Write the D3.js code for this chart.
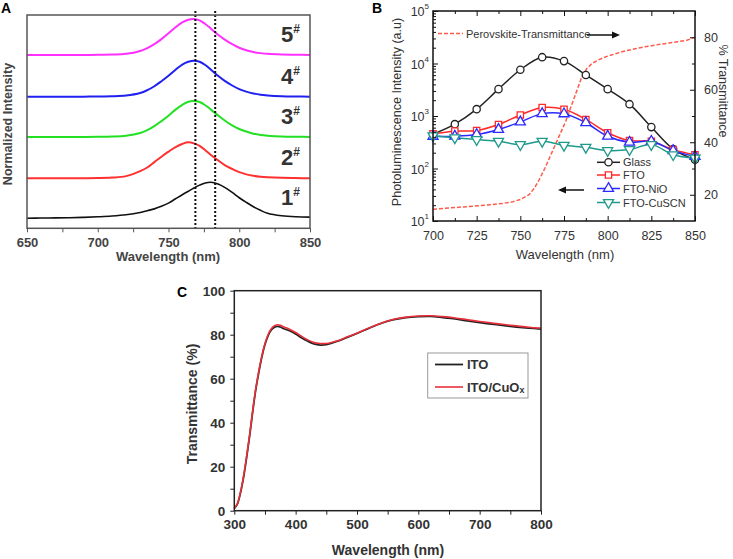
<!DOCTYPE html>
<html>
<head>
<meta charset="utf-8">
<script src="https://cdn.jsdelivr.net/npm/d3@7"></script>
<style>
  body { margin: 0; background: #fff; }
  text { font-family: "Liberation Sans", Arial, sans-serif; }
</style>
</head>
<body>
<div></div>
<script>
// ---------- panel A : normalized PL spectra ----------
var aWl = [650, 660, 670, 680, 690, 700, 710, 720, 730, 735, 740, 745, 750, 755, 760, 764,
           768, 772, 776, 780, 785, 790, 795, 800, 805, 810, 815, 820, 830, 840, 850];
var aS1 = [0, 0.005, 0.01, 0.015, 0.025, 0.04, 0.06, 0.095, 0.16, 0.21, 0.26, 0.33, 0.42, 0.54, 0.66, 0.75,
           0.84, 0.92, 0.98, 1.0, 0.95, 0.85, 0.72, 0.57, 0.44, 0.32, 0.22, 0.14, 0.07, 0.04, 0.03];
var aS2 = [0, 0, 0, 0, 0.002, 0.006, 0.02, 0.06, 0.2, 0.3, 0.45, 0.6, 0.74, 0.87, 0.96, 1.0,
           0.97, 0.9, 0.78, 0.65, 0.5, 0.36, 0.26, 0.17, 0.11, 0.07, 0.045, 0.03, 0.012, 0.005, 0];
var aS3 = [0, 0, 0, 0, 0, 0.004, 0.012, 0.035, 0.11, 0.19, 0.3, 0.44, 0.59, 0.76, 0.9, 0.98,
           1.0, 0.97, 0.88, 0.76, 0.6, 0.45, 0.32, 0.22, 0.15, 0.09, 0.055, 0.035, 0.013, 0.005, 0];
var aS4 = [0, 0, 0, 0, 0, 0.003, 0.01, 0.03, 0.1, 0.18, 0.29, 0.43, 0.58, 0.75, 0.9, 0.97,
           1.0, 0.97, 0.88, 0.75, 0.58, 0.43, 0.31, 0.21, 0.14, 0.09, 0.055, 0.035, 0.013, 0.005, 0];
var aS5 = [0, 0, 0, 0, 0, 0.003, 0.01, 0.03, 0.11, 0.19, 0.3, 0.44, 0.6, 0.77, 0.91, 0.98,
           1.0, 0.96, 0.86, 0.73, 0.56, 0.42, 0.3, 0.2, 0.13, 0.08, 0.05, 0.03, 0.012, 0.005, 0];
var aSeries = [aS1, aS2, aS3, aS4, aS5];
var aNames = ["1", "2", "3", "4", "5"];
var aOffsets = [0, 1.11, 2.26, 3.38, 4.54];
var aColors = ["#111111", "#ff3030", "#22e022", "#2020f0", "#ff30ff"];
var aMarks = [769, 783];
var aTicks = [650, 700, 750, 800, 850];

// ---------- panel B : PL intensity (log) + transmittance ----------
var bWl = [700, 712.5, 725, 737.5, 750, 762.5, 775, 787.5, 800, 812.5, 825, 837.5, 850];
var bGlass = [450, 700, 1350, 3250, 7600, 13200, 11100, 6050, 3250, 1680, 615, 235, 147];
var bFto   = [460, 515, 530, 690, 1045, 1450, 1340, 860, 480, 340, 330, 229, 183];
var bNio   = [410, 412, 444, 555, 770, 1110, 1100, 745, 412, 316, 330, 219, 170];
var bCuscn = [420, 385, 355, 330, 285, 330, 277, 253, 219, 229, 285, 183, 158];
var bNames = ["Glass", "FTO", "FTO-NiO", "FTO-CuSCN"];
var bColors = ["#222222", "#ff2a2a", "#2a2aff", "#1f9a8c"];
var bPeroWl = [700, 710, 720, 730, 740, 745, 750, 755, 758, 761, 764, 767, 770, 773, 776, 779,
               782, 785, 788, 791, 795, 800, 805, 810, 815, 820, 825, 830, 835, 840, 845, 850];
var bPeroT = [14.5, 15, 15.5, 16, 16.7, 17.2, 18.2, 20, 22.5, 26, 30, 34.5, 39, 43.5, 48, 53.5,
              59, 64.5, 68, 70, 71.5, 72.8, 73.8, 74.8, 75.5, 76.2, 76.8, 77.3, 77.8, 78.3, 78.8, 80];
var bTicks = [700, 725, 750, 775, 800, 825, 850];
var bRightTicks = [20, 40, 60, 80];

// ---------- panel C : transmittance of ITO ----------
var cWl = [300, 305, 310, 315, 320, 325, 330, 335, 340, 345, 350, 355, 360, 365, 370, 375, 380, 390,
           400, 410, 420, 430, 440, 450, 460, 470, 480, 500, 520, 540, 560, 580, 600, 620, 640, 660,
           680, 700, 720, 740, 760, 780, 800];
var cIto = [1, 3, 8, 15, 24, 34, 45, 55, 63, 70, 75.5, 79.5, 82, 83.3, 83.8, 83.5, 82.8, 81.8,
            80.3, 78.5, 77, 75.8, 75.3, 75.5, 76.3, 77.2, 78.3, 80.6, 83, 85.2, 86.8, 87.8, 88.2, 88.3, 87.8, 87.2,
            86.3, 85.5, 84.8, 84.1, 83.5, 83, 82.6];
var cItoCu = [1, 3.2, 8.3, 15.5, 24.5, 34.5, 45.5, 55.5, 63.5, 70.5, 76, 80, 82.6, 84, 84.5, 84.3, 83.6, 82.5,
              81, 79.2, 77.6, 76.4, 76, 76, 76.6, 77.4, 78.5, 80.7, 83.1, 85.3, 87, 88, 88.5, 88.6, 88.2, 87.6,
              86.8, 86, 85.3, 84.6, 84, 83.4, 83];
var cXTicks = [300, 400, 500, 600, 700, 800];
var cYTicks = [0, 20, 40, 60, 80, 100];

var svg = d3.select("div").append("svg")
    .attr("width", 733)
    .attr("height", 559);
svg.append("rect").attr("width", 733).attr("height", 559).attr("fill", "#fff");

// ================= A =================
var ax = d3.scaleLinear().domain([650, 850]).range([27, 310]);
var ay = d3.scaleLinear().domain([-0.28, 5.65]).range([228.3, 15]);
var gA = svg.append("g");

var aLine = d3.line().x(d => ax(d[0])).y(d => ay(d[1])).curve(d3.curveCatmullRom);
aSeries.forEach(function (vals, k) {
  gA.append("path")
    .datum(aWl.map((w, i) => [w, vals[i] + aOffsets[k]]))
    .attr("d", aLine)
    .attr("fill", "none")
    .attr("stroke", aColors[k])
    .attr("stroke-width", k == 0 ? 1.6 : 2);
});

aMarks.forEach(function (w) {
  gA.append("line")
    .attr("x1", ax(w)).attr("x2", ax(w))
    .attr("y1", 11).attr("y2", ay(-0.28))
    .attr("stroke", "#111").attr("stroke-width", 2).attr("stroke-dasharray", "2,2");
});

gA.append("rect").attr("x", 27).attr("y", 15).attr("width", 283).attr("height", 213.3)
  .attr("fill", "none").attr("stroke", "#555").attr("stroke-width", 1.5);

var aAxis = gA.append("g").attr("transform", "translate(0,228.3)")
  .call(d3.axisBottom(ax).tickValues(d3.range(650, 851, 25)).tickSize(4)
        .tickFormat(d => aTicks.indexOf(d) >= 0 ? d : ""));
aAxis.select(".domain").remove();
aAxis.selectAll("line").attr("stroke", "#555");
aAxis.selectAll("text").attr("font-size", 13).attr("font-weight", "bold").attr("fill", "#444")
  .attr("dy", "0.9em");

aNames.forEach(function (n, k) {
  var t = gA.append("text")
    .attr("x", 281)
    .attr("y", ay(aOffsets[k]) - 13)
    .attr("font-size", 22).attr("font-weight", "bold").attr("fill", "#333");
  t.append("tspan").text(n);
  t.append("tspan").attr("font-size", 12).attr("dy", -9).text("#");
});

gA.append("text").attr("x", 168).attr("y", 261).attr("text-anchor", "middle")
  .attr("font-size", 13).attr("font-weight", "bold").attr("fill", "#444").text("Wavelength (nm)");
gA.append("text").attr("transform", "translate(12,124) rotate(-90)").attr("text-anchor", "middle")
  .attr("font-size", 12.5).attr("font-weight", "bold").attr("fill", "#444").text("Normalized Intensity");
gA.append("text").attr("x", 1).attr("y", 13).attr("font-size", 14).attr("font-weight", "bold").text("A");

// ================= B =================
var bx = d3.scaleLinear().domain([700, 850]).range([433, 695]);
var by = d3.scaleLog().domain([10, 1e5]).range([221, 11]);
var byR = d3.scaleLinear().domain([10, 90]).range([221, 11]);
var gB = svg.append("g");

var peroLine = d3.line().x((d, i) => bx(bPeroWl[i])).y(d => byR(d));
gB.append("path").datum(bPeroT).attr("d", peroLine)
  .attr("fill", "none").attr("stroke", "#ff5a4a").attr("stroke-width", 1.5)
  .attr("stroke-dasharray", "4,2");

var bSeries = [bGlass, bFto, bNio, bCuscn];
var bSymbols = [
  d3.symbol().type(d3.symbolCircle).size(42),
  d3.symbol().type(d3.symbolSquare).size(40),
  d3.symbol().type(d3.symbolTriangle).size(44),
  d3.symbol().type(d3.symbolTriangle).size(44)
];
var bLine = d3.line().x((d, i) => bx(bWl[i])).y(d => by(d)).curve(d3.curveCatmullRom);

bSeries.forEach(function (vals, k) {
  gB.append("path").datum(vals).attr("d", bLine)
    .attr("fill", "none").attr("stroke", bColors[k]).attr("stroke-width", 1.5);
});
bSeries.forEach(function (vals, k) {
  gB.selectAll(null).data(vals).enter().append("path")
    .attr("d", bSymbols[k])
    .attr("transform", (d, i) => "translate(" + bx(bWl[i]) + "," + by(d) + ")" + (k == 3 ? " rotate(180)" : ""))
    .attr("fill", "#fff").attr("stroke", bColors[k]).attr("stroke-width", 1.3);
});

gB.append("rect").attr("x", 433).attr("y", 11).attr("width", 262).attr("height", 210)
  .attr("fill", "none").attr("stroke", "#111").attr("stroke-width", 1.5);

var bMinorX = d3.range(700, 851, 12.5);
function tickLen(isMajor) { return isMajor ? 5 : 3; }

var bAxisB = gB.append("g").attr("transform", "translate(0,221)")
  .call(d3.axisBottom(bx).tickValues(bMinorX).tickSize(-5).tickPadding(10)
        .tickFormat(d => bTicks.indexOf(d) >= 0 ? d : ""));
bAxisB.selectAll(".tick line").attr("y2", d => -tickLen(d % 25 == 0));
var bAxisT = gB.append("g").attr("transform", "translate(0,11)")
  .call(d3.axisTop(bx).tickValues(bMinorX).tickSize(-5).tickFormat(""));
bAxisT.selectAll(".tick line").attr("y2", d => tickLen(d % 25 == 0));

var logTicks = [];
for (var p = 1; p < 5; p++) for (var m = 1; m < 10; m++) logTicks.push(m * Math.pow(10, p));
logTicks.push(1e5);
var bAxisL = gB.append("g").attr("transform", "translate(433,0)")
  .call(d3.axisLeft(by).tickValues(logTicks).tickSize(-5).tickFormat(""));
bAxisL.selectAll(".tick line").attr("x2", d => tickLen(Math.abs(Math.log10(d) % 1) < 1e-9 ? 1 : 0));

var bAxisR = gB.append("g").attr("transform", "translate(695,0)")
  .call(d3.axisRight(byR).tickValues([20, 30, 40, 50, 60, 70, 80]).tickSize(-5).tickPadding(9)
        .tickFormat(d => bRightTicks.indexOf(d) >= 0 ? d : ""));
bAxisR.selectAll(".tick line").attr("x2", d => -tickLen(d % 20 == 0));

[bAxisB, bAxisT, bAxisL, bAxisR].forEach(function (g) {
  g.select(".domain").remove();
  g.selectAll("line").attr("stroke", "#111");
  g.selectAll("text").attr("font-size", 12.5).attr("fill", "#333");
});

[1, 2, 3, 4, 5].forEach(function (p) {
  var t = gB.append("text").attr("x", 429).attr("y", by(Math.pow(10, p)) + 5)
    .attr("text-anchor", "end").attr("font-size", 12.5).attr("fill", "#333");
  t.append("tspan").text("10");
  t.append("tspan").attr("font-size", 8).attr("dy", -7).text(p);
});

// legend B
bNames.forEach(function (n, k) {
  var yy = [162.3, 175, 188.5, 202.5][k];
  gB.append("line").attr("x1", 597).attr("x2", 620).attr("y1", yy).attr("y2", yy)
    .attr("stroke", bColors[k]).attr("stroke-width", 1.5);
  gB.append("path").attr("d", bSymbols[k])
    .attr("transform", "translate(608.5," + yy + ")" + (k == 3 ? " rotate(180)" : ""))
    .attr("fill", "#fff").attr("stroke", bColors[k]).attr("stroke-width", 1.3);
  gB.append("text").attr("x", 623).attr("y", yy + 4).attr("font-size", 11).attr("fill", "#333").text(n);
});

// annotation
gB.append("line").attr("x1", 438).attr("x2", 463).attr("y1", 33.5).attr("y2", 33.5)
  .attr("stroke", "#ff5a4a").attr("stroke-width", 1.5).attr("stroke-dasharray", "4,2");
gB.append("text").attr("x", 466).attr("y", 37.5).attr("font-size", 11).attr("fill", "#333")
  .text("Perovskite-Transmittance");
function arrow(x1, x2, y) {
  var dir = x2 > x1 ? 1 : -1;
  gB.append("line").attr("x1", x1).attr("x2", x2 - dir * 4).attr("y1", y).attr("y2", y)
    .attr("stroke", "#111").attr("stroke-width", 1.5);
  gB.append("path").attr("d", "M" + x2 + "," + y + " l" + (-dir * 8) + ",-3.5 l0,7 z").attr("fill", "#111");
}
arrow(587, 620, 35);
arrow(584, 558, 190);

gB.append("text").attr("x", 565).attr("y", 259).attr("text-anchor", "middle")
  .attr("font-size", 13).attr("fill", "#333").text("Wavelength (nm)");
gB.append("text").attr("transform", "translate(401,112) rotate(-90)").attr("text-anchor", "middle")
  .attr("font-size", 12.5).attr("fill", "#333").text("Photoluminescence Intensity (a.u)");
gB.append("text").attr("transform", "translate(719,91) rotate(90)").attr("text-anchor", "middle")
  .attr("font-size", 12.5).attr("fill", "#333").text("% Transmittance");
gB.append("text").attr("x", 372).attr("y", 13).attr("font-size", 14).attr("font-weight", "bold").text("B");

// ================= C =================
var cx = d3.scaleLinear().domain([300, 800]).range([234.3, 541]);
var cy = d3.scaleLinear().domain([0, 100]).range([510.7, 290.7]);
var gC = svg.append("g");

var cLine = d3.line().x((d, i) => cx(cWl[i])).y(d => cy(d)).curve(d3.curveCatmullRom);
gC.append("path").datum(cIto).attr("d", cLine)
  .attr("fill", "none").attr("stroke", "#222").attr("stroke-width", 1.8);
gC.append("path").datum(cItoCu).attr("d", cLine)
  .attr("fill", "none").attr("stroke", "#e8303a").attr("stroke-width", 1.6);

gC.append("rect").attr("x", 234.3).attr("y", 290.7).attr("width", 306.7).attr("height", 220)
  .attr("fill", "none").attr("stroke", "#222").attr("stroke-width", 1.5);

var cAxisX = gC.append("g").attr("transform", "translate(0,510.7)")
  .call(d3.axisBottom(cx).tickValues(d3.range(300, 801, 50)).tickSize(4).tickPadding(5)
        .tickFormat(d => cXTicks.indexOf(d) >= 0 ? d : ""));
var cAxisY = gC.append("g").attr("transform", "translate(234.3,0)")
  .call(d3.axisLeft(cy).tickValues(d3.range(0, 101, 10)).tickSize(4).tickPadding(5)
        .tickFormat(d => cYTicks.indexOf(d) >= 0 ? d : ""));
[cAxisX, cAxisY].forEach(function (g) {
  g.select(".domain").remove();
  g.selectAll("line").attr("stroke", "#222");
  g.selectAll("text").attr("font-size", 13.5).attr("font-weight", "bold").attr("fill", "#333");
});

gC.append("rect").attr("x", 427.7).attr("y", 353).attr("width", 100.3).attr("height", 45)
  .attr("fill", "#fff").attr("stroke", "#999").attr("stroke-width", 1);
gC.append("line").attr("x1", 435).attr("x2", 463).attr("y1", 364.5).attr("y2", 364.5)
  .attr("stroke", "#222").attr("stroke-width", 1.8);
gC.append("text").attr("x", 467).attr("y", 369).attr("font-size", 13).attr("font-weight", "bold")
  .attr("fill", "#333").text("ITO");
gC.append("line").attr("x1", 435).attr("x2", 463).attr("y1", 387).attr("y2", 387)
  .attr("stroke", "#e8303a").attr("stroke-width", 1.6);
var lt = gC.append("text").attr("x", 467).attr("y", 391.5).attr("font-size", 13).attr("font-weight", "bold")
  .attr("fill", "#333");
lt.append("tspan").text("ITO/CuO");
lt.append("tspan").attr("font-size", 9).attr("dy", 1).text("x");

gC.append("text").attr("x", 388).attr("y", 555).attr("text-anchor", "middle")
  .attr("font-size", 14).attr("font-weight", "bold").attr("fill", "#333").text("Wavelength (nm)");
gC.append("text").attr("transform", "translate(197,404) rotate(-90)").attr("text-anchor", "middle")
  .attr("font-size", 14).attr("font-weight", "bold").attr("fill", "#333").text("Transmittance (%)");
gC.append("text").attr("x", 177).attr("y", 297).attr("font-size", 14).attr("font-weight", "bold").text("C");
</script>
</body>
</html>
